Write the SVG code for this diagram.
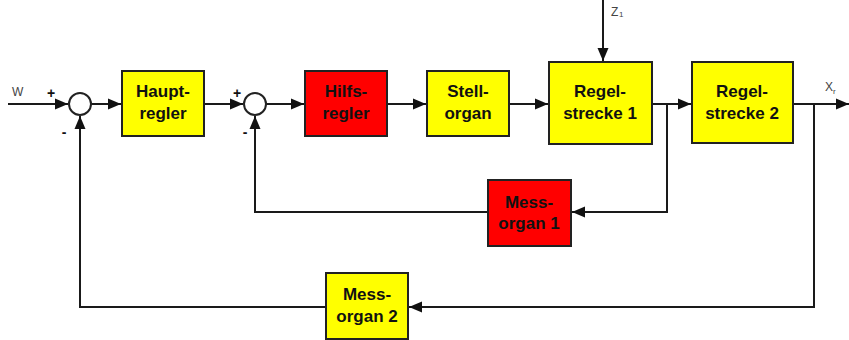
<svg xmlns="http://www.w3.org/2000/svg" width="849" height="340" viewBox="0 0 849 340">
<style>
.box{stroke:#222;stroke-width:2}
.y{fill:#ffff00}
.r{fill:#ff0000}
.sum{fill:#fff;stroke:#222;stroke-width:2}
.t{font-family:"Liberation Sans",Arial,sans-serif;font-weight:bold;font-size:17px;fill:#111;text-anchor:middle}
.lbl{font-family:"Liberation Sans",Arial,sans-serif;font-size:12px;fill:#444}
.sub{font-family:"Liberation Sans",Arial,sans-serif;font-size:8px;fill:#444}
.sg{font-family:"Liberation Sans",Arial,sans-serif;font-weight:bold;font-size:14px;fill:#111;text-anchor:middle}
.c{fill:none;stroke:#1a1a1a;stroke-width:2}
</style>
<defs>
<marker id="ah" markerUnits="userSpaceOnUse" markerWidth="14" markerHeight="12" refX="13" refY="6" orient="auto">
<path d="M0,0.5 L13,6 L0,11.5 Z" fill="#111"/>
</marker>
</defs>
<rect width="849" height="340" fill="#fff"/>
<g id="connectors">
<path class="c" d="M8,104 H68" marker-end="url(#ah)"/>
<path class="c" d="M91,104 H121" marker-end="url(#ah)"/>
<path class="c" d="M204,104 H243" marker-end="url(#ah)"/>
<path class="c" d="M266,104 H304" marker-end="url(#ah)"/>
<path class="c" d="M387,104 H426" marker-end="url(#ah)"/>
<path class="c" d="M509,104 H548" marker-end="url(#ah)"/>
<path class="c" d="M652,104 H691" marker-end="url(#ah)"/>
<path class="c" d="M793,104 H849" marker-end="url(#ah)"/>
<path class="c" d="M603,0 V61" marker-end="url(#ah)"/>
<path class="c" d="M667,104 V212 H572" marker-end="url(#ah)"/>
<path class="c" d="M488,212 H255 V116" marker-end="url(#ah)"/>
<path class="c" d="M814,104 V307 H409" marker-end="url(#ah)"/>
<path class="c" d="M326,307 H80 V116" marker-end="url(#ah)"/>
</g>
<g id="labels">
<text class="lbl" x="12" y="96">W</text>
<text class="sg" x="51" y="98">+</text>
<text class="sg" x="64" y="137">-</text>
<text class="sg" x="237" y="98">+</text>
<text class="sg" x="245" y="137">-</text>
<text class="lbl" x="611" y="16">Z</text><text class="sub" x="619" y="17">1</text>
<text class="lbl" x="825" y="91">X</text><text class="sub" x="833" y="94">r</text>
</g>
<g id="sum1"><circle class="sum" cx="80" cy="104" r="11"/></g>
<g id="sum2"><circle class="sum" cx="255" cy="104" r="11"/></g>
<g id="hauptregler"><rect class="box y" x="122" y="71" width="82" height="65"/><text class="t" x="163" y="97">Haupt-</text><text class="t" x="163" y="119">regler</text></g>
<g id="hilfsregler"><rect class="box r" x="305" y="71" width="82" height="65"/><text class="t" x="346" y="97">Hilfs-</text><text class="t" x="346" y="119">regler</text></g>
<g id="stellorgan"><rect class="box y" x="427" y="71" width="82" height="65"/><text class="t" x="468" y="97">Stell-</text><text class="t" x="468" y="119">organ</text></g>
<g id="regelstrecke1"><rect class="box y" x="549" y="62" width="103" height="82"/><text class="t" x="600" y="97">Regel-</text><text class="t" x="600" y="119">strecke 1</text></g>
<g id="regelstrecke2"><rect class="box y" x="692" y="62" width="101" height="81"/><text class="t" x="742" y="97">Regel-</text><text class="t" x="742" y="119">strecke 2</text></g>
<g id="messorgan1"><rect class="box r" x="488" y="180" width="83" height="66"/><text class="t" x="529" y="208">Mess-</text><text class="t" x="529" y="229">organ 1</text></g>
<g id="messorgan2"><rect class="box y" x="326" y="273" width="82" height="66"/><text class="t" x="367" y="300">Mess-</text><text class="t" x="367" y="322">organ 2</text></g>
</svg>
